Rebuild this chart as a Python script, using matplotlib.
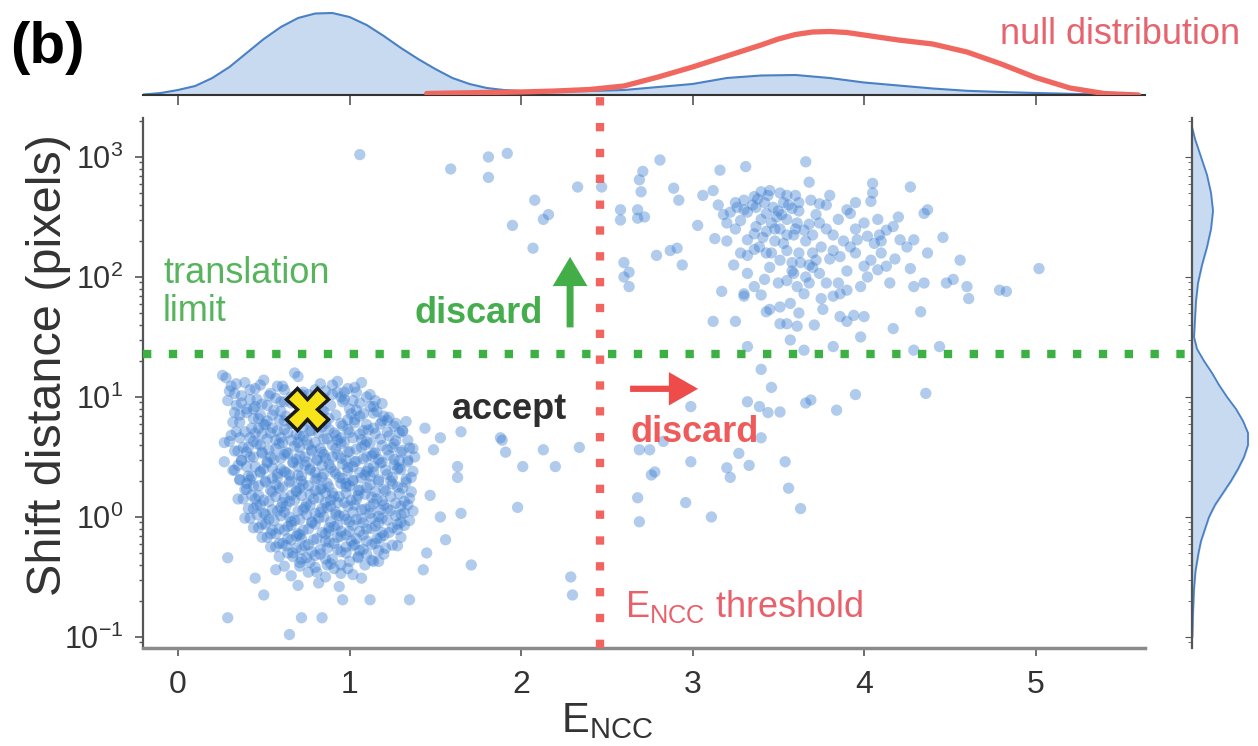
import numpy as np
import matplotlib.pyplot as plt
from matplotlib.ticker import LogLocator, NullFormatter

plt.rcParams['font.family'] = ['Liberation Sans', 'DejaVu Sans']

# scatter points: (E_NCC, log10 shift distance)
accept_pts = [
    (0.28, 1.16), (0.39, 1.12), (0.50, 1.14), (0.61, 1.09), (0.70, 1.17), (0.83, 1.11), (0.93, 1.13), (1.03, 1.08),
    (0.30, 1.05), (0.37, 1.01), (0.45, 1.07), (0.54, 1.03), (0.62, 1.06), (0.76, 1.02), (0.86, 1.05), (0.95, 1.00),
    (1.04, 1.04), (1.12, 1.02),
    (0.29, 0.97), (0.34, 0.93), (0.42, 0.98), (0.49, 0.94), (0.57, 0.99), (0.66, 0.95), (0.81, 0.97), (0.89, 0.93),
    (0.97, 0.98), (1.06, 0.95), (1.14, 0.92),
    (0.33, 0.87), (0.40, 0.90), (0.48, 0.85), (0.56, 0.89), (0.63, 0.84), (0.85, 0.88), (0.92, 0.85), (1.00, 0.90),
    (1.08, 0.86), (1.16, 0.88), (1.23, 0.83),
    (0.36, 0.79), (0.44, 0.82), (0.51, 0.77), (0.59, 0.81), (0.67, 0.78), (0.74, 0.80), (0.81, 0.76), (0.88, 0.82),
    (0.95, 0.78), (1.03, 0.81), (1.10, 0.77), (1.19, 0.80), (1.27, 0.78),
    (0.39, 0.71), (0.47, 0.74), (0.54, 0.70), (0.62, 0.73), (0.69, 0.69), (0.77, 0.72), (0.84, 0.75), (0.91, 0.70),
    (0.99, 0.73), (1.06, 0.69), (1.14, 0.74), (1.22, 0.71), (1.31, 0.72),
    (0.27, 0.62), (0.36, 0.66), (0.44, 0.63), (0.52, 0.65), (0.59, 0.61), (0.66, 0.64), (0.73, 0.67), (0.80, 0.62),
    (0.87, 0.65), (0.95, 0.61), (1.02, 0.66), (1.10, 0.63), (1.18, 0.65), (1.26, 0.61), (1.34, 0.64),
    (0.33, 0.55), (0.41, 0.58), (0.49, 0.54), (0.57, 0.57), (0.64, 0.53), (0.71, 0.58), (0.78, 0.55), (0.85, 0.52),
    (0.92, 0.57), (0.99, 0.54), (1.07, 0.58), (1.14, 0.53), (1.22, 0.56), (1.30, 0.54), (1.37, 0.57),
    (0.37, 0.47), (0.44, 0.50), (0.52, 0.46), (0.60, 0.49), (0.67, 0.45), (0.74, 0.50), (0.81, 0.47), (0.88, 0.44),
    (0.95, 0.49), (1.03, 0.46), (1.10, 0.50), (1.18, 0.45), (1.26, 0.48), (1.34, 0.46),
    (0.32, 0.39), (0.40, 0.42), (0.48, 0.38), (0.55, 0.41), (0.63, 0.37), (0.70, 0.42), (0.77, 0.39), (0.84, 0.43),
    (0.91, 0.38), (0.99, 0.41), (1.06, 0.37), (1.14, 0.42), (1.21, 0.39), (1.29, 0.41), (1.37, 0.38),
    (0.36, 0.31), (0.43, 0.34), (0.51, 0.30), (0.58, 0.33), (0.65, 0.29), (0.72, 0.34), (0.80, 0.31), (0.87, 0.28),
    (0.94, 0.33), (1.02, 0.30), (1.09, 0.35), (1.17, 0.31), (1.25, 0.33), (1.33, 0.29),
    (0.39, 0.23), (0.47, 0.26), (0.54, 0.22), (0.61, 0.25), (0.69, 0.21), (0.76, 0.26), (0.83, 0.23), (0.90, 0.20),
    (0.98, 0.25), (1.05, 0.22), (1.12, 0.27), (1.20, 0.23), (1.28, 0.25), (1.36, 0.21),
    (0.35, 0.15), (0.43, 0.18), (0.50, 0.14), (0.57, 0.17), (0.65, 0.13), (0.72, 0.18), (0.79, 0.15), (0.86, 0.12),
    (0.94, 0.17), (1.01, 0.14), (1.09, 0.19), (1.16, 0.15), (1.24, 0.17), (1.32, 0.13),
    (0.41, 0.07), (0.48, 0.10), (0.55, 0.06), (0.63, 0.09), (0.70, 0.05), (0.77, 0.10), (0.84, 0.07), (0.92, 0.04),
    (0.99, 0.09), (1.07, 0.06), (1.14, 0.11), (1.22, 0.07), (1.30, 0.09), (1.37, 0.05),
    (0.39, -0.01), (0.46, 0.02), (0.53, -0.02), (0.60, 0.01), (0.68, -0.03), (0.75, 0.02), (0.82, -0.01),
    (0.89, -0.04), (0.97, 0.01), (1.04, -0.02), (1.12, 0.03), (1.19, -0.01), (1.27, 0.01), (1.35, -0.03),
    (0.44, -0.09), (0.51, -0.06), (0.59, -0.10), (0.66, -0.07), (0.73, -0.11), (0.80, -0.06), (0.88, -0.09),
    (0.95, -0.12), (1.02, -0.07), (1.10, -0.10), (1.17, -0.05), (1.25, -0.09), (1.32, -0.07),
    (0.49, -0.17), (0.57, -0.14), (0.64, -0.18), (0.71, -0.15), (0.79, -0.19), (0.86, -0.14), (0.93, -0.17),
    (1.01, -0.20), (1.08, -0.15), (1.16, -0.18), (1.23, -0.13), (1.30, -0.17),
    (0.54, -0.25), (0.61, -0.22), (0.69, -0.26), (0.76, -0.23), (0.83, -0.27), (0.91, -0.22), (0.98, -0.25),
    (1.06, -0.28), (1.13, -0.23), (1.21, -0.26), (1.28, -0.24),
    (0.59, -0.33), (0.67, -0.30), (0.75, -0.34), (0.83, -0.31), (0.90, -0.35), (0.98, -0.30), (1.05, -0.33),
    (1.13, -0.36), (1.20, -0.31),
    (0.62, -0.41), (0.71, -0.38), (0.80, -0.42), (0.89, -0.39), (0.99, -0.43), (1.09, -0.40), (1.17, -0.37),
    (0.66, -0.49), (0.76, -0.46), (0.86, -0.50), (0.95, -0.47), (1.07, -0.51),
    (0.70, -0.57), (0.82, -0.55), (0.94, -0.58),
    (0.55, 0.74), (0.70, 0.62), (0.82, 0.70), (0.95, 0.66), (1.08, 0.72), (0.62, 0.52), (0.75, 0.46), (0.90, 0.50),
    (1.02, 0.42), (1.17, 0.48), (0.58, 0.36), (0.72, 0.30), (0.85, 0.36), (0.98, 0.28), (1.12, 0.34), (0.66, 0.18),
    (0.80, 0.22), (0.93, 0.12), (1.05, 0.18), (1.20, 0.10), (0.62, 0.04), (0.78, -0.04), (0.92, 0.02), (1.08, -0.05),
    (0.70, -0.14), (0.86, -0.20), (1.00, -0.12), (1.15, -0.22), (0.45, 0.92), (0.60, 0.96), (0.75, 0.90),
    (0.90, 1.02), (0.48, 0.60), (0.40, 0.28), (1.28, 0.40), (1.30, 0.02),
    (0.29, -0.34), (0.29, -0.84), (0.65, -0.98), (0.72, -0.84), (0.84, -0.84), (0.50, -0.65), (0.45, -0.51),
    (0.57, -0.44), (0.96, -0.69), (1.12, -0.69), (1.35, -0.69), (1.43, -0.44), (1.56, -0.19), (1.45, -0.30),
    (1.53, 0.00), (1.47, 0.18), (1.63, 0.42), (1.63, 0.33), (1.49, 0.56), (1.53, 0.66), (1.44, 0.74),
    (0.26, 1.18), (0.68, 1.20), (0.27, 0.46), (1.88, 0.66),
]

# the dense core of the accepted cluster
accept_core_pts = [
    (0.34, 1.11), (0.42, 1.06), (0.58, 1.09), (0.73, 1.04), (0.90, 1.10), (0.99, 1.07), (1.07, 1.12),
    (0.33, 1.03), (0.46, 0.98), (0.53, 1.01), (0.62, 0.96), (0.72, 1.02), (0.85, 0.99), (0.93, 1.04), (1.02, 0.97),
    (1.10, 1.00),
    (0.37, 0.95), (0.44, 0.90), (0.52, 0.93), (0.60, 0.88), (0.70, 0.94), (0.78, 0.91), (0.96, 0.96), (1.04, 0.89),
    (1.12, 0.92), (1.19, 0.945),
    (0.40, 0.87), (0.47, 0.82), (0.55, 0.85), (0.62, 0.80), (0.70, 0.86), (0.77, 0.83), (0.84, 0.88), (0.99, 0.81),
    (1.06, 0.84), (1.14, 0.865), (1.22, 0.805),
    (0.32, 0.79), (0.43, 0.74), (0.50, 0.77), (0.58, 0.72), (0.66, 0.78), (0.73, 0.75), (0.80, 0.80), (0.88, 0.73),
    (0.96, 0.76), (1.03, 0.785), (1.11, 0.725), (1.18, 0.775), (1.26, 0.755), (1.33, 0.795),
    (0.34, 0.71), (0.42, 0.66), (0.49, 0.69), (0.57, 0.64), (0.64, 0.70), (0.71, 0.67), (0.78, 0.72), (0.85, 0.65),
    (0.92, 0.68), (1.00, 0.705), (1.07, 0.645), (1.15, 0.695), (1.23, 0.675), (1.31, 0.715),
    (0.30, 0.63), (0.38, 0.58), (0.46, 0.61), (0.53, 0.56), (0.61, 0.62), (0.68, 0.59), (0.75, 0.64), (0.83, 0.57),
    (0.90, 0.60), (0.97, 0.625), (1.04, 0.565), (1.12, 0.615), (1.19, 0.595), (1.27, 0.635), (1.35, 0.575),
    (0.35, 0.55), (0.42, 0.50), (0.49, 0.53), (0.56, 0.48), (0.63, 0.54), (0.71, 0.51), (0.78, 0.56), (0.86, 0.49),
    (0.93, 0.52), (1.00, 0.545), (1.08, 0.485), (1.15, 0.535), (1.23, 0.515), (1.31, 0.555),
    (0.37, 0.47), (0.45, 0.42), (0.52, 0.45), (0.60, 0.40), (0.67, 0.46), (0.74, 0.43), (0.81, 0.48), (0.89, 0.41),
    (0.96, 0.44), (1.04, 0.465), (1.11, 0.405), (1.19, 0.455), (1.26, 0.435), (1.34, 0.475),
    (0.33, 0.39), (0.41, 0.34), (0.48, 0.37), (0.55, 0.32), (0.62, 0.38), (0.70, 0.35), (0.77, 0.40), (0.84, 0.33),
    (0.92, 0.36), (0.99, 0.385), (1.07, 0.325), (1.14, 0.375), (1.22, 0.355), (1.30, 0.395),
    (0.36, 0.31), (0.44, 0.26), (0.51, 0.29), (0.59, 0.24), (0.66, 0.30), (0.73, 0.27), (0.81, 0.32), (0.88, 0.25),
    (0.95, 0.28), (1.02, 0.305), (1.10, 0.245), (1.17, 0.295), (1.25, 0.275), (1.33, 0.315),
    (0.40, 0.23), (0.47, 0.18), (0.55, 0.21), (0.62, 0.16), (0.69, 0.22), (0.77, 0.19), (0.84, 0.24), (0.91, 0.17),
    (0.98, 0.20), (1.06, 0.225), (1.13, 0.165), (1.21, 0.215), (1.29, 0.195),
    (0.38, 0.15), (0.46, 0.10), (0.53, 0.13), (0.60, 0.08), (0.68, 0.14), (0.75, 0.11), (0.82, 0.16), (0.89, 0.09),
    (0.97, 0.12), (1.04, 0.145), (1.12, 0.085), (1.19, 0.135), (1.27, 0.115), (1.35, 0.155),
    (0.44, 0.07), (0.51, 0.02), (0.58, 0.05), (0.65, 0.00), (0.73, 0.06), (0.80, 0.03), (0.87, 0.08), (0.94, 0.01),
    (1.02, 0.04), (1.09, 0.065), (1.17, 0.005), (1.24, 0.055), (1.32, 0.035),
    (0.42, -0.01), (0.49, -0.06), (0.56, -0.03), (0.64, -0.08), (0.71, -0.02), (0.78, -0.05), (0.85, 0.00),
    (0.93, -0.07), (1.00, -0.04), (1.07, -0.015), (1.15, -0.075), (1.22, -0.025), (1.30, -0.045),
    (0.47, -0.09), (0.54, -0.14), (0.62, -0.11), (0.69, -0.16), (0.76, -0.10), (0.84, -0.13), (0.91, -0.08),
    (0.98, -0.15), (1.06, -0.12), (1.13, -0.095), (1.20, -0.155), (1.28, -0.105),
    (0.52, -0.17), (0.59, -0.22), (0.66, -0.19), (0.74, -0.24), (0.81, -0.18), (0.88, -0.21), (0.95, -0.16),
    (1.03, -0.23), (1.10, -0.20), (1.18, -0.175), (1.25, -0.235),
    (0.57, -0.25), (0.64, -0.30), (0.72, -0.27), (0.80, -0.32), (0.87, -0.26), (0.95, -0.29), (1.02, -0.24),
    (1.10, -0.31), (1.17, -0.28),
    (0.67, -0.33), (0.77, -0.38), (0.86, -0.35), (0.95, -0.40), (1.05, -0.34), (1.14, -0.37),
    (0.71, -0.41), (0.81, -0.46), (0.91, -0.43), (1.02, -0.48),
    (0.31, 1.09), (0.48, 1.10), (0.66, 1.00), (0.80, 1.06), (0.97, 1.04), (1.15, 0.97),
    (0.36, 0.85), (0.52, 0.80), (0.69, 0.82), (0.86, 0.78), (1.01, 0.86), (1.20, 0.84), (1.29, 0.70),
    (0.31, 0.68), (0.45, 0.70), (0.60, 0.66), (0.76, 0.60), (0.93, 0.64), (1.09, 0.60), (1.25, 0.58), (1.38, 0.50),
    (0.40, 0.54), (0.54, 0.50), (0.69, 0.48), (0.84, 0.54), (0.98, 0.47), (1.13, 0.51), (1.29, 0.47),
    (0.35, 0.43), (0.50, 0.40), (0.65, 0.35), (0.80, 0.37), (0.96, 0.32), (1.10, 0.38), (1.24, 0.30), (1.36, 0.33),
    (0.42, 0.31), (0.57, 0.27), (0.71, 0.24), (0.86, 0.20), (1.00, 0.26), (1.15, 0.21), (1.31, 0.24),
    (0.45, 0.15), (0.61, 0.12), (0.74, 0.08), (0.89, 0.14), (1.03, 0.10), (1.18, 0.06), (1.34, 0.10),
    (0.50, 0.03), (0.66, -0.04), (0.83, 0.04), (0.98, -0.02), (1.13, -0.01), (1.28, -0.06),
    (0.55, -0.11), (0.72, -0.18), (0.88, -0.12), (1.04, -0.18), (1.19, -0.13),
    (0.63, -0.24), (0.78, -0.29), (0.93, -0.27), (1.08, -0.27), (0.72, -0.35), (0.87, -0.40), (1.00, -0.37),
]

null_pts = [
    (2.81, 2.975), (2.71, 2.88), (2.70, 2.71), (2.58, 2.475), (2.68, 2.49), (2.72, 2.50), (2.63, 2.04), (2.63, 1.92),
    (2.79, 2.18), (2.87, 2.22), (2.91, 2.24), (2.94, 2.10), (2.89, 2.74), (2.92, 2.64), (3.03, 2.43), (3.13, 2.32),
    (3.16, 2.89), (3.31, 2.92), (3.66, 2.96), (3.68, 2.79), (3.06, 2.68), (3.12, 2.72),
    (3.18, 2.52), (3.22, 2.54), (3.26, 2.58), (3.30, 2.64), (3.36, 2.67), (3.40, 2.71), (3.45, 2.72), (3.51, 2.70),
    (3.55, 2.68), (3.32, 2.54), (3.37, 2.58), (3.43, 2.53), (3.49, 2.50), (3.55, 2.48), (3.61, 2.45), (3.65, 2.39),
    (3.37, 2.42), (3.43, 2.38), (3.51, 2.40), (3.59, 2.35), (3.32, 2.31), (3.36, 2.23), (3.32, 2.18), (3.39, 2.25),
    (3.45, 2.08), (3.51, 2.14), (3.55, 2.22), (3.69, 2.64), (3.74, 2.61), (3.78, 2.60), (3.74, 2.45), (3.82, 2.35),
    (3.70, 2.20), (3.72, 2.14), (3.70, 2.08), (3.74, 2.03), (3.78, 1.95), (3.59, 2.03), (3.55, 1.97), (3.61, 1.92),
    (3.65, 1.86), (3.32, 2.03), (3.36, 1.92), (3.30, 1.84), (3.45, 1.73), (3.51, 1.75), (3.57, 1.78),
    (3.55, 1.61), (3.61, 1.59), (3.57, 1.475), (3.65, 1.39), (3.71, 1.60), (3.76, 1.73),
    (3.82, 1.84), (3.86, 1.86), (3.90, 1.89), (3.86, 1.67), (3.90, 1.63), (3.94, 1.68),
    (3.98, 1.50), (4.00, 1.67), (3.82, 1.42), (3.90, 2.56), (3.92, 2.53), (4.00, 2.45), (4.04, 2.63), (4.05, 2.78),
    (4.05, 2.70), (3.82, 2.22), (3.86, 2.17), (3.92, 2.25), (3.96, 2.31), (4.02, 2.34), (4.06, 2.28), (4.09, 2.35),
    (4.13, 2.39), (4.17, 2.42), (4.00, 2.09), (4.04, 2.14), (4.08, 2.06), (4.13, 2.09), (4.15, 1.95), (3.98, 1.92),
    (4.21, 2.31), (4.25, 2.25), (4.29, 2.31), (4.37, 2.20), (4.27, 2.07), (4.27, 2.75), (4.37, 2.56), (4.35, 2.53),
    (4.46, 2.33), (4.56, 2.14), (4.48, 1.95), (4.52, 1.98), (4.29, 1.92), (4.35, 1.95), (4.33, 1.71), (4.60, 1.92),
    (4.61, 1.82), (4.79, 1.89), (4.83, 1.88), (4.17, 1.57), (4.44, 1.42), (4.29, 1.39),
    (3.12, 1.63), (3.25, 1.63), (3.17, 1.88), (3.30, 1.86), (3.32, 1.42), (3.43, 1.71), (3.51, 1.61), (3.40, 1.23),
    (5.02, 2.07),
    (3.35, 2.60), (3.42, 2.62), (3.47, 2.58), (3.53, 2.62), (3.58, 2.57), (3.40, 2.48), (3.46, 2.45), (3.52, 2.52),
    (3.28, 2.47), (3.62, 2.55), (3.66, 2.30), (3.62, 2.20), (3.58, 2.12), (3.48, 2.30), (3.43, 2.20), (3.66, 2.00),
    (3.68, 2.10), (3.78, 2.40), (3.85, 2.48), (3.95, 2.40), (4.08, 2.48), (4.10, 2.20), (3.25, 2.40), (3.20, 2.30),
    (3.60, 2.68), (3.72, 2.52),
    (3.30, 2.56), (3.38, 2.65), (3.44, 2.68), (3.50, 2.55), (3.56, 2.60), (3.62, 2.62), (3.48, 2.40), (3.55, 2.35),
    (3.41, 2.33), (3.36, 2.36), (3.46, 2.20), (3.53, 2.28), (3.60, 2.40), (3.68, 2.44), (3.70, 2.35), (3.63, 2.12),
    (3.58, 2.05), (3.50, 1.95), (3.42, 1.98), (3.40, 1.85), (3.68, 1.95), (3.75, 2.25), (3.80, 2.15), (3.88, 2.30),
    (3.95, 2.20), (3.90, 2.05), (3.85, 1.95), (4.02, 2.00), (4.10, 2.30), (4.18, 2.15), (3.25, 2.62), (3.20, 2.45),
    (3.15, 2.60), (3.28, 2.20), (3.24, 2.10), (3.80, 2.68), (3.95, 2.62), (4.20, 2.50), (3.62, 1.70), (3.75, 1.82),
]

other_pts = [
    (1.06, 3.02), (1.59, 2.90), (1.81, 3.00), (1.81, 2.83), (1.92, 3.03), (2.08, 2.64), (1.95, 2.43), (2.13, 2.48),
    (2.16, 2.52), (2.07, 2.24), (2.33, 2.75), (2.47, 2.75), (2.58, 2.56), (2.68, 2.56), (2.60, 2.12), (2.60, 2.00),
    (2.69, 2.81),
    (2.99, 0.92), (3.46, 1.08), (3.32, 0.96), (3.39, 0.92), (3.44, 0.87), (3.51, 0.875), (3.66, 0.95), (3.69, 0.975),
    (3.84, 0.89), (3.95, 1.02), (4.36, 1.03), (2.69, 0.56), (2.75, 0.56), (2.83, 0.63), (2.99, 0.46), (2.78, 0.375),
    (2.76, 0.35), (2.68, 0.16), (2.69, -0.04), (2.96, 0.12), (3.11, 0.00), (3.20, 0.41), (3.22, 0.33), (3.27, 0.53),
    (3.33, 0.43), (3.54, 0.46), (3.56, 0.24), (3.63, 0.07), (3.40, 0.66),
    (1.65, 0.71), (1.89, 0.64), (1.91, 0.54), (2.01, 0.42), (2.13, 0.56), (2.20, 0.42), (2.34, 0.58), (1.98, 0.08),
    (2.29, -0.50), (2.30, -0.65), (1.71, -0.40), (1.65, 0.03),
]

# marginal densities (arbitrary units)
top_x = [-0.2, -0.1, 0.0, 0.1, 0.2, 0.3, 0.4, 0.5, 0.6, 0.7, 0.8, 0.9, 1.0, 1.1, 1.2, 1.3, 1.4, 1.5, 1.6, 1.7,
         1.8, 1.9, 2.0, 2.2, 2.4, 2.6, 2.8, 3.0, 3.2, 3.4, 3.6, 3.8, 4.0, 4.2, 4.4, 4.6, 4.8, 5.0, 5.2, 5.4, 5.6]
top_density = [0.005, 0.02, 0.05, 0.09, 0.17, 0.28, 0.42, 0.56, 0.68, 0.77, 0.815, 0.82, 0.78, 0.70, 0.59, 0.47,
               0.36, 0.26, 0.17, 0.11, 0.07, 0.05, 0.04, 0.035, 0.04, 0.05, 0.08, 0.11, 0.17, 0.195, 0.20, 0.17,
               0.125, 0.095, 0.065, 0.042, 0.03, 0.02, 0.012, 0.006, 0.003]
null_x = [1.45, 1.6, 1.8, 2.0, 2.2, 2.4, 2.6, 2.8, 3.0, 3.2, 3.4, 3.5, 3.6, 3.7, 3.8, 3.9, 4.0, 4.2, 4.4, 4.6,
          4.8, 5.0, 5.2, 5.4, 5.6]
null_density = [0.015, 0.02, 0.025, 0.03, 0.04, 0.055, 0.09, 0.18, 0.28, 0.39, 0.50, 0.56, 0.605, 0.63, 0.635,
                0.625, 0.60, 0.55, 0.51, 0.43, 0.31, 0.175, 0.07, 0.015, 0.0]
side_log_shift = [3.25, 3.15, 3.0, 2.85, 2.7, 2.55, 2.4, 2.25, 2.1, 1.95, 1.8, 1.65, 1.5, 1.4, 1.3, 1.2, 1.1, 1.0,
                  0.9, 0.8, 0.7, 0.6, 0.5, 0.4, 0.3, 0.2, 0.1, 0.0, -0.1, -0.2, -0.3, -0.45, -0.6, -0.8, -1.0]
side_density = [0.0, 0.03, 0.09, 0.15, 0.19, 0.21, 0.19, 0.15, 0.10, 0.06, 0.04, 0.03, 0.02, 0.05, 0.12, 0.20,
                0.27, 0.35, 0.44, 0.51, 0.56, 0.56, 0.52, 0.46, 0.39, 0.31, 0.23, 0.17, 0.13, 0.09, 0.065, 0.035,
                0.02, 0.01, 0.003]

ncc_threshold = 2.46
shift_limit = 23
best_match = (0.75, 8.0)

blue = '#3b7dd0'
red = '#f2645f'
green = '#3cb043'

fig = plt.figure(figsize=(12.58, 7.46), dpi=100)
ax = fig.add_axes([143 / 1258, 98 / 746, 1002 / 1258, 530 / 746])
ax_top = fig.add_axes([143 / 1258, 651 / 746, 1002 / 1258, 95 / 746])
ax_right = fig.add_axes([1192 / 1258, 98 / 746, 66 / 1258, 530 / 746])

for pts in (accept_pts, accept_core_pts, null_pts, other_pts):
    xs, ls = np.array(pts).T
    ax.scatter(xs, 10 ** ls, s=66, color=blue, alpha=0.4, edgecolors='none', zorder=2)

ax.plot(*best_match, marker='X', ms=30, mfc='#f7e41a', mec='#1a1a1a', mew=2.5, zorder=6)

ax.set_yscale('log')
ax.set_xlim(-0.204, 5.638)
ax.set_ylim(10 ** -1.092, 10 ** 3.325)
ax.set_xticks([0, 1, 2, 3, 4, 5])
ax.yaxis.set_major_locator(LogLocator(base=10, numticks=10))
ax.yaxis.set_minor_locator(LogLocator(base=10, subs=np.arange(2, 10), numticks=20))
ax.yaxis.set_minor_formatter(NullFormatter())
for s in ['top', 'right']:
    ax.spines[s].set_visible(False)
ax.spines['left'].set_color('#555555')
ax.spines['left'].set_linewidth(1.6)
ax.spines['bottom'].set_color('#8a8a8a')
ax.spines['bottom'].set_linewidth(2.5)
ax.tick_params(axis='both', which='major', labelsize=23, labelcolor='#333333', color='#555555',
               length=6, width=1.2)
ax.tick_params(axis='x', which='major', pad=10)
ax.tick_params(axis='y', which='major', labelsize=22, pad=8)
ax.tick_params(axis='y', which='minor', length=3, width=1, color='#555555')
ax.set_xlabel(r'E$_{\mathregular{NCC}}$', fontsize=30, color='#333333')
ax.xaxis.set_label_coords(0.463, -0.1)
ax.set_ylabel('Shift distance (pixels)', fontsize=35, color='#333333')
ax.yaxis.set_label_coords(-0.072, 0.534)

# threshold lines
ax.axvline(ncc_threshold, ymin=0, ymax=(648 - 97) / 530, color=red, lw=6, ls=(0, (1, 2.1)),
           clip_on=False, zorder=4)
ax.axhline(shift_limit, xmin=0, xmax=(1187 - 143) / 1002, color=green, lw=6, ls=(0, (1, 2.1)),
           clip_on=False, zorder=3)

# annotations
ax.text(-0.087, 74, 'translation\nlimit', color='#56b45c', fontsize=26, ha='left', va='center', linespacing=1.1)
ax.text(2.13, 50, 'discard', color='#45ad4d', fontsize=26, fontweight='bold', ha='right', va='center')
ax.annotate('', xy=(2.286, 147), xytext=(2.286, 38),
            arrowprops=dict(width=5, headwidth=25, headlength=21, shrink=0, color='#43ae47', lw=0))
ax.text(1.933, 7.8, 'accept', color='#2e2e2e', fontsize=26, fontweight='bold', ha='center', va='center')
ax.annotate('', xy=(3.032, 11.7), xytext=(2.636, 11.7),
            arrowprops=dict(width=4.5, headwidth=24, headlength=21, shrink=0, color='#ee4b4b', lw=0))
ax.text(2.636, 5.1, 'discard', color='#ef5a5a', fontsize=26, fontweight='bold', ha='left', va='center')
ax.text(2.606, 0.181, r'E$_{\mathregular{NCC}}$ threshold', color='#e8606a', fontsize=26,
        ha='left', va='center')

# top marginal
ax_top.fill_between(top_x, top_density, color='#c8daf0', zorder=1)
ax_top.plot(top_x, top_density, color='#4a80c4', lw=1.5, zorder=2)
ax_top.plot(null_x, null_density, color='#f0675f', lw=3.8, zorder=3, solid_capstyle='round')
ax_top.set_xlim(ax.get_xlim())
ax_top.set_ylim(0, 0.95)
for s in ['top', 'right', 'left']:
    ax_top.spines[s].set_visible(False)
ax_top.spines['bottom'].set_color('#333333')
ax_top.spines['bottom'].set_linewidth(1.5)
ax_top.set_xticks([0, 1, 2, 3, 4, 5])
ax_top.set_xticklabels([])
ax_top.set_yticks([])
ax_top.tick_params(axis='x', length=7, width=1.2, color='#555555')
ax_top.patch.set_alpha(0)
ax_top.text((1240 - 143) / 1002, (95 - 35) / 95, 'null distribution', transform=ax_top.transAxes,
            color='#e5646e', fontsize=26, ha='right', va='center')

# right marginal
side_shift = 10 ** np.array(side_log_shift)
ax_right.fill_betweenx(side_shift, side_density, color='#c8daf0', zorder=1)
ax_right.plot(side_density, side_shift, color='#4a80c4', lw=1.3, zorder=2)
ax_right.set_yscale('log')
ax_right.set_ylim(ax.get_ylim())
ax_right.set_xlim(0, 0.66)
for s in ['top', 'right', 'bottom']:
    ax_right.spines[s].set_visible(False)
ax_right.spines['left'].set_color('#555555')
ax_right.spines['left'].set_linewidth(1.6)
ax_right.set_xticks([])
ax_right.yaxis.set_major_locator(LogLocator(base=10, numticks=10))
ax_right.yaxis.set_minor_locator(LogLocator(base=10, subs=np.arange(2, 10), numticks=20))
ax_right.yaxis.set_major_formatter(NullFormatter())
ax_right.yaxis.set_minor_formatter(NullFormatter())
ax_right.tick_params(axis='y', which='major', length=5, color='#555555')
ax_right.tick_params(axis='y', which='minor', length=3, color='#555555')
ax_right.patch.set_alpha(0)

fig.text(10 / 1258, 1 - 48 / 746, '(b)', fontsize=42, fontweight='bold', ha='left', va='center')

fig.savefig('out.png', dpi=100)
